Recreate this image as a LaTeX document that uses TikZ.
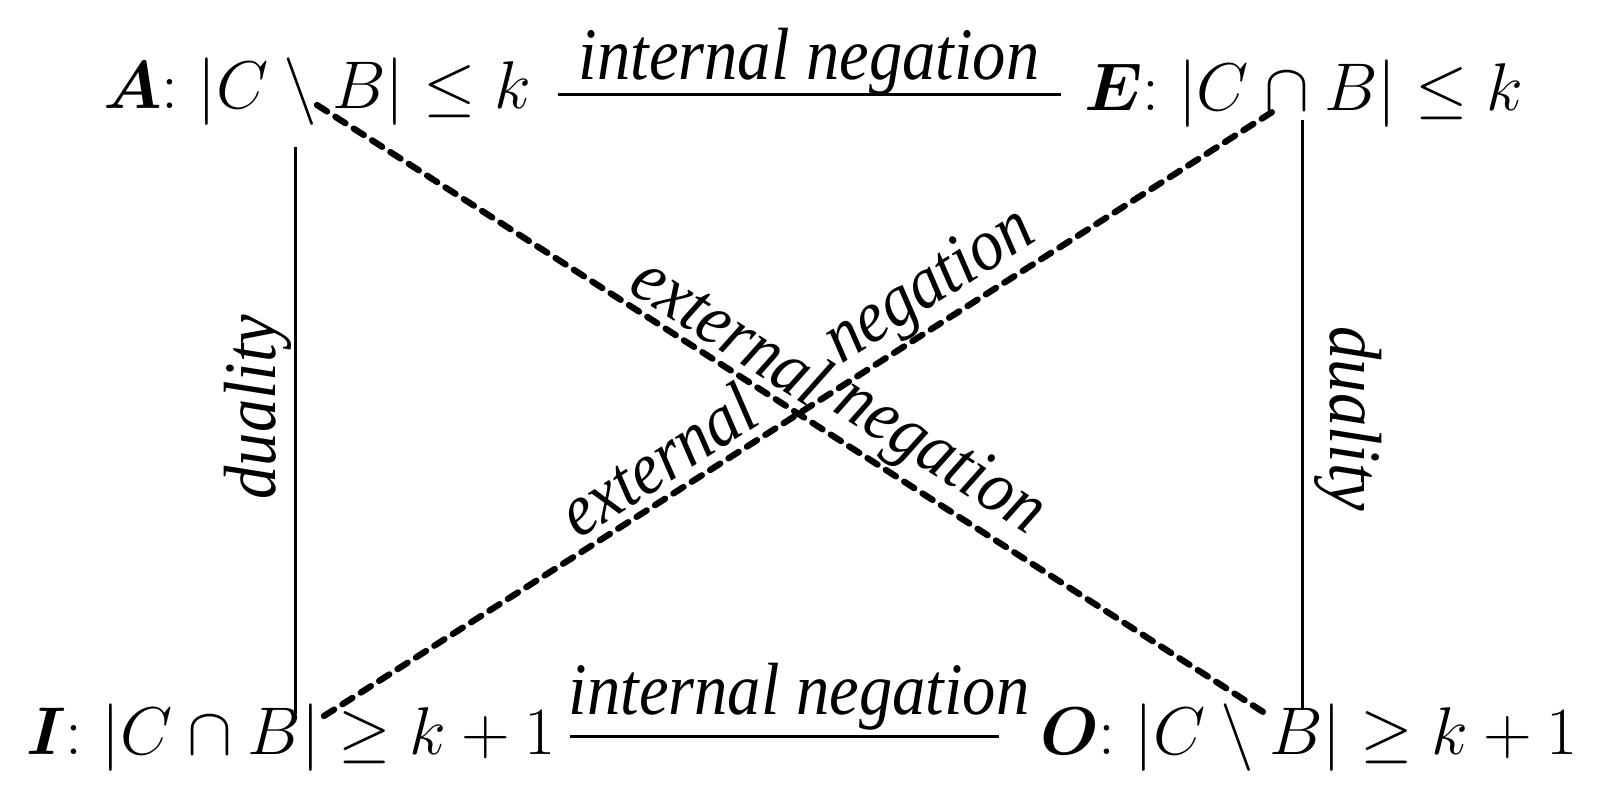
\RequirePackage{fix-cm}
\documentclass[tikz,border=0pt]{standalone}
\usepackage{fontspec}
\usepackage{bm}
\usepackage{graphicx}
\newfontfamily\lblfont{Liberation Serif}
\newcommand\lbltxt[1]{\scalebox{0.9}[1]{#1}}
\tikzset{
  formula/.style={inner sep=0pt, anchor=base west, font=\fontsize{67.5}{80}\selectfont},
  lbl/.style={inner sep=0pt, font=\lblfont\itshape\fontsize{74}{80}\selectfont},
  solidline/.style={line width=3pt},
  dashline/.style={line width=6.3pt, dash pattern=on 12pt off 9.8pt, line cap=round}
}
\begin{document}
\begin{tikzpicture}[x=1pt,y=-1pt]
\useasboundingbox (0,0) rectangle (1600,793);
% formula nodes
\node[formula] (A) at (103,108) {$\bm{A}{:}\;|C\setminus B|\le k$};
\node[formula] (E) at (1084,110) {$\bm{E}{:}\;|C\cap B|\le k$};
\node[formula] (I) at (26,754) {$\bm{I}{:}\;|C\cap B|\ge k+1$};
\node[formula] (O) at (1040,754) {$\bm{O}{:}\;|C\setminus B|\ge k+1$};
% connector end points
\coordinate (aeL) at (558,94);
\coordinate (aeR) at (1061,94);
\coordinate (ioL) at (570,736);
\coordinate (ioR) at (999,736);
\coordinate (aiT) at (295,147);
\coordinate (aiB) at (295,714);
\coordinate (eoT) at (1302,120);
\coordinate (eoB) at (1302,710);
\coordinate (aoS) at (317,105);
\coordinate (aoE) at (1271,717);
\coordinate (ieS) at (324,716);
\coordinate (ieE) at (1280,107);
% solid connectors
\draw[solidline] (aeL) -- (aeR);
\draw[solidline] (ioL) -- (ioR);
\draw[solidline] (aiT) -- (aiB);
\draw[solidline] (eoT) -- (eoB);
% dashed connectors
\draw[dashline] (aoS) -- (aoE);
\draw[dashline] (ieS) -- (ieE);
% labels
\node[lbl, anchor=base] (lblAE) at (809,79) {\lbltxt{internal negation}};
\node[lbl, anchor=base] (lblIO) at (799,714) {\lbltxt{internal negation}};
\node[lbl, rotate=90] (lblAI) at (258,407) {\lbltxt{duality}};
\node[lbl, rotate=-90] (lblEO) at (1348,419) {\lbltxt{duality}};
\node[lbl, rotate=-32.7] (lblAO1) at (732,328) {\lbltxt{external}};
\node[lbl, rotate=-32.7] (lblAO2) at (939,459) {\lbltxt{negation}};
\node[lbl, rotate=32.5] (lblIE1) at (657,460) {\lbltxt{external}};
\node[lbl, rotate=32.5] (lblIE2) at (931,288) {\lbltxt{negation}};
\end{tikzpicture}
\end{document}
